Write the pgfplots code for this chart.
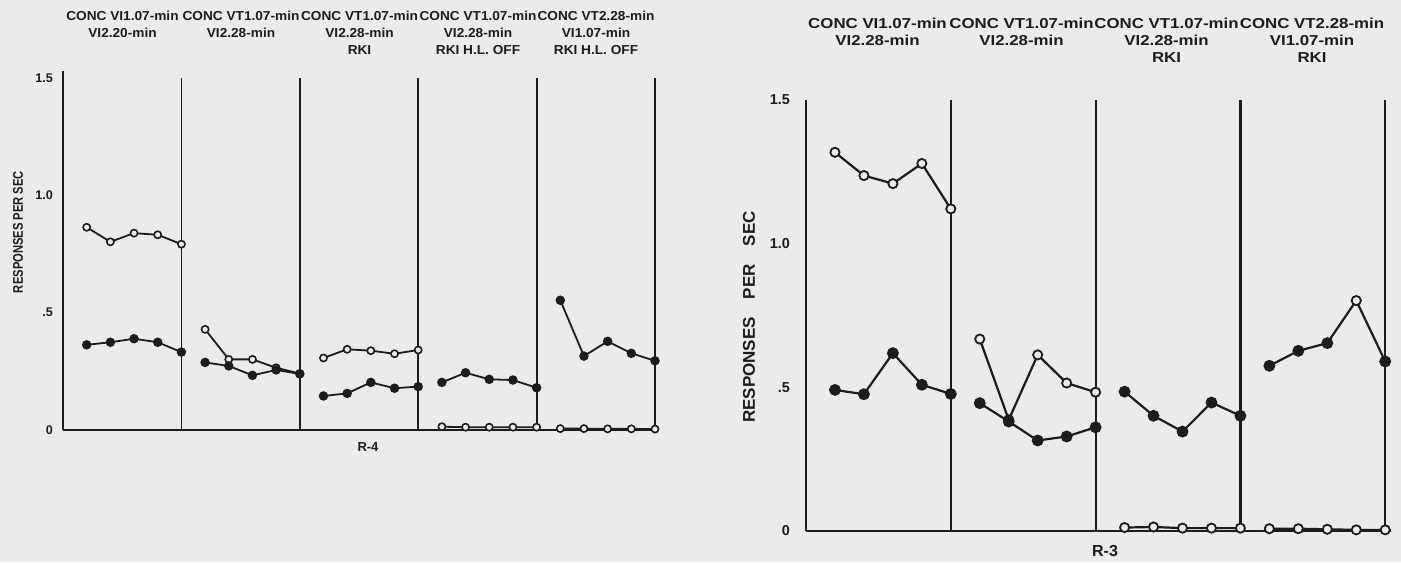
\documentclass[border=0pt]{standalone}
\usepackage{pgfplots}
\pgfplotsset{compat=1.18}
\usepackage{fontspec}
\setmainfont{Liberation Sans}
\definecolor{bg}{RGB}{235,235,235}
\definecolor{ink}{RGB}{28,28,28}
\pgfplotsset{
  panel/.style={scale only axis, axis lines=left,
    axis line style={-, ink, line width=0.9pt},
    xtick=\empty, ytick={0,0.5,1,1.5}, yticklabels={0,.5,1.0,1.5},
    major tick length=0pt, clip=false, ymin=0},
  opn/.style={ink, line width=0.9pt, mark=*, mark options={fill=bg, line width=0.8pt}, mark size=1.8pt},
  fil/.style={ink, line width=0.9pt, mark=*, mark options={fill=ink}, mark size=1.9pt},
  opnR/.style={ink, line width=1.1pt, mark=*, mark options={fill=bg, line width=0.9pt}, mark size=2.3pt},
  filR/.style={ink, line width=1.1pt, mark=*, mark options={fill=ink}, mark size=2.4pt},
  dv/.style={ink, line width=0.9pt, no marks},
}
\newcommand\hdrL[1]{\scalebox{1.05}[1]{\fontsize{6.5}{8.5}\selectfont\bfseries\begin{tabular}[t]{@{}c@{}}#1\end{tabular}}}
\newcommand\hdrR[1]{\scalebox{1.17}[1]{\fontsize{7.2}{8.7}\selectfont\bfseries\begin{tabular}[t]{@{}c@{}}#1\end{tabular}}}
\begin{document}
\begin{tikzpicture}
\path[use as bounding box, fill=bg] (0,0) rectangle (700.5pt,-281pt);
% ---------------- left panel (R-4)
\begin{axis}[panel, at={(31.5pt,-215pt)}, anchor=south west,
  width=296pt, height=179.5pt, xmin=0, xmax=25, ymax=1.53,
  tick label style={font=\bfseries\fontsize{6.3}{6.3}\selectfont},
  yticklabel style={anchor=east, xshift=-1.5pt, ink}]
\addplot[dv] coordinates {(5,0) (5,1.5)};
\addplot[dv] coordinates {(10,0) (10,1.5)};
\addplot[dv] coordinates {(15,0) (15,1.5)};
\addplot[dv] coordinates {(20,0) (20,1.5)};
\addplot[dv] coordinates {(25,0) (25,1.5)};
% panel 1
\addplot[opn] coordinates {(1,0.864) (2,0.802) (3,0.839) (4,0.832) (5,0.792)};
\addplot[fil] coordinates {(1,0.363) (2,0.374) (3,0.389) (4,0.374) (5,0.332)};
% panel 2
\addplot[opn] coordinates {(6,0.429) (7,0.301) (8,0.301) (9,0.265) (10,0.241)};
\addplot[fil] coordinates {(6,0.288) (7,0.273) (8,0.233) (9,0.256) (10,0.239)};
% panel 3
\addplot[opn] coordinates {(11,0.307) (12,0.344) (13,0.338) (14,0.325) (15,0.341)};
\addplot[fil] coordinates {(11,0.145) (12,0.156) (13,0.203) (14,0.178) (15,0.185)};
% panel 4
\addplot[fil] coordinates {(16,0.203) (17,0.244) (18,0.216) (19,0.213) (20,0.180)};
\addplot[opn] coordinates {(16,0.014) (17,0.012) (18,0.012) (19,0.012) (20,0.012)};
% panel 5
\addplot[fil] coordinates {(21,0.553) (22,0.315) (23,0.378) (24,0.327) (25,0.295)};
\addplot[opn] coordinates {(21,0.006) (22,0.006) (23,0.005) (24,0.005) (25,0.004)};
\end{axis}
% ---------------- right panel (R-3)
\begin{axis}[panel, at={(403pt,-265.5pt)}, anchor=south west,
  width=292.5pt, height=215.5pt, xmin=0, xmax=20.2, ymax=1.5,
  axis line style={line width=1.1pt},
  tick label style={font=\bfseries\fontsize{7.2}{7.2}\selectfont},
  yticklabel style={anchor=east, xshift=-4.5pt, ink}]
\addplot[dv, line width=1.1pt] coordinates {(5,0) (5,1.5)};
\addplot[dv, line width=1.1pt] coordinates {(10,0) (10,1.5)};
\addplot[dv, line width=1.1pt] coordinates {(15,0) (15,1.5)};
\addplot[dv, line width=1.1pt] coordinates {(20,0) (20,1.5)};
% panel 1
\addplot[opnR] coordinates {(1,1.318) (2,1.237) (3,1.209) (4,1.279) (5,1.121)};
\addplot[filR] coordinates {(1,0.491) (2,0.476) (3,0.619) (4,0.509) (5,0.477)};
% panel 2
\addplot[opnR] coordinates {(6,0.668) (7,0.387) (8,0.613) (9,0.515) (10,0.483)};
\addplot[filR] coordinates {(6,0.445) (7,0.381) (8,0.315) (9,0.329) (10,0.361)};
% panel 3
\addplot[filR] coordinates {(11,0.485) (12,0.401) (13,0.346) (14,0.447) (15,0.401)};
\addplot[opnR] coordinates {(11,0.012) (12,0.014) (13,0.010) (14,0.010) (15,0.010)};
% panel 4
\addplot[filR, mark indices={1,2,3,5}] coordinates {(16,0.575) (17,0.627) (18,0.654) (19,0.802) (20,0.590)};
\addplot[opnR, only marks] coordinates {(19,0.802)};
\addplot[opnR] coordinates {(16,0.008) (17,0.008) (18,0.006) (19,0.004) (20,0.004)};
\end{axis}
% ---------------- texts
\tikzset{hd/.style={inner sep=0pt, anchor=base, ink}}
\node[hd] at (61.25pt,-10.4pt) {\hdrL{CONC VI1.07-min\\VI2.20-min}};
\node[hd] at (120.5pt,-10.4pt) {\hdrL{CONC VT1.07-min\\VI2.28-min}};
\node[hd] at (179.75pt,-10.4pt) {\hdrL{CONC VT1.07-min\\VI2.28-min\\RKI}};
\node[hd] at (239pt,-10.4pt) {\hdrL{CONC VT1.07-min\\VI2.28-min\\RKI H.L. OFF}};
\node[hd] at (298pt,-10.4pt) {\hdrL{CONC VT2.28-min\\VI1.07-min\\RKI H.L. OFF}};
\node[hd] at (438.75pt,-14pt) {\hdrR{CONC VI1.07-min\\VI2.28-min}};
\node[hd] at (510.75pt,-14pt) {\hdrR{CONC VT1.07-min\\VI2.28-min}};
\node[hd] at (583.25pt,-14pt) {\hdrR{CONC VT1.07-min\\VI2.28-min\\RKI}};
\node[hd] at (656pt,-14pt) {\hdrR{CONC VT2.28-min\\VI1.07-min\\RKI}};
\node[rotate=90, ink, inner sep=0pt, font=\bfseries\fontsize{7}{7}\selectfont] at (9pt,-116pt) {\scalebox{0.8}[1]{RESPONSES PER SEC}};
\node[rotate=90, ink, inner sep=0pt, font=\bfseries\fontsize{8.5}{8.5}\selectfont] at (374.5pt,-158.5pt) {RESPONSES\hspace{9pt}PER\hspace{9pt}SEC};
\node[ink, inner sep=0pt, font=\bfseries\fontsize{6.5}{6.5}\selectfont] at (184pt,-223.5pt) {R-4};
\node[ink, inner sep=0pt, font=\bfseries\fontsize{8}{8}\selectfont] at (552.5pt,-275.5pt) {R-3};
\end{tikzpicture}
\end{document}
